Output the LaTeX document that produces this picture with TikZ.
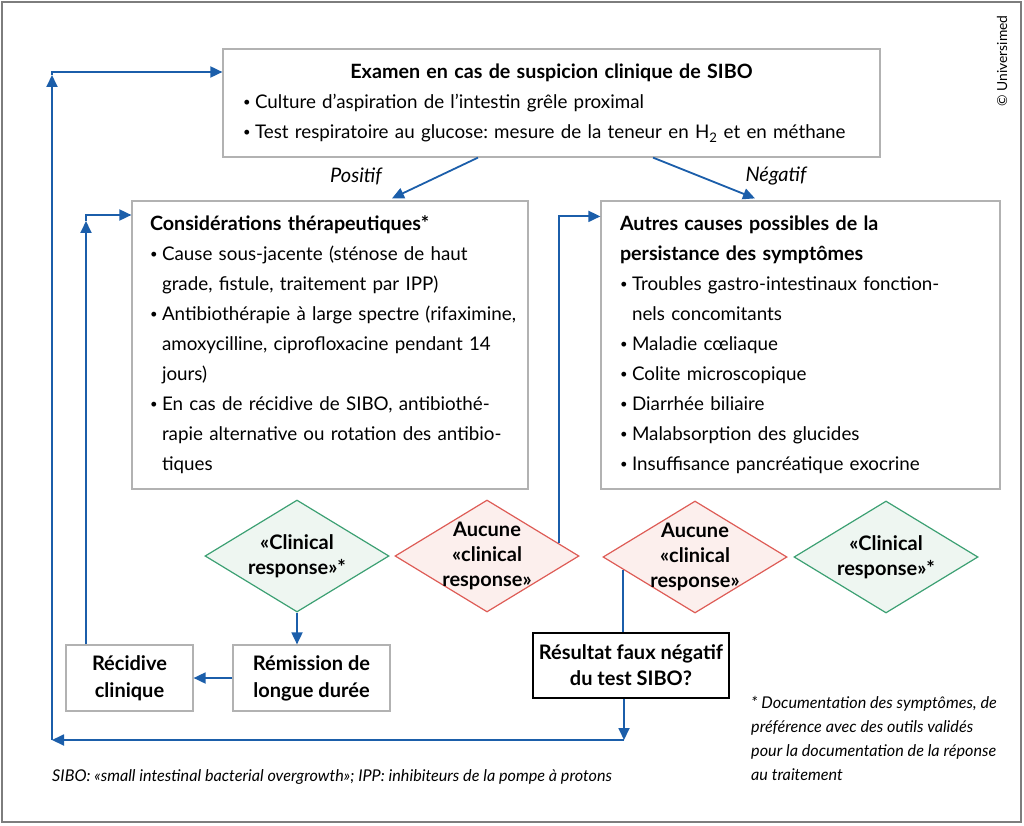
\documentclass[tikz,border=0pt]{standalone}
\usepackage{fontspec}
\setmainfont{Lato}
\usetikzlibrary{positioning, calc, shapes.geometric, arrows.meta}
\definecolor{flowblue}{RGB}{27,94,170}
\definecolor{boxgray}{RGB}{178,178,178}
\definecolor{framegray}{RGB}{125,125,125}
\definecolor{okline}{RGB}{60,160,115}
\definecolor{okfill}{RGB}{238,246,241}
\definecolor{noline}{RGB}{222,92,86}
\definecolor{nofill}{RGB}{252,239,237}
\tikzstyle{Flow} = [
%blue connector with a solid tip:
draw=flowblue, line width=1.8pt,
-{Triangle[length=12pt, width=11pt]}
]
\tikzstyle{Line} = [draw=flowblue, line width=1.8pt]
\newcommand{\bul}{\makebox[12pt][l]{\raisebox{0.1em}{\fontsize{13}{13}\selectfont\textbullet}}}
\newcommand{\contline}{\hspace*{12pt}}
\newcommand{\head}[1]{{\bfseries\fontsize{19.7}{30}\selectfont #1}}
\frenchspacing

\begin{document}
\begin{tikzpicture}[x=1pt, y=-1pt,
			box/.style = {rectangle, draw=boxgray, line width=1.2pt, fill=white, inner sep=0pt, align=left, font=\fontsize{18.8}{30}\selectfont},
			step box/.style = {rectangle, draw=boxgray, line width=1.2pt, fill=white, inner sep=0pt, align=center, font=\bfseries\fontsize{20}{27}\selectfont},
			question/.style = {rectangle, draw=black, line width=2.2pt, fill=white, inner sep=0pt, align=center, font=\bfseries\fontsize{20}{26}\selectfont},
			decision/.style = {diamond, line width=1.2pt, inner sep=-20pt, minimum width=184pt, minimum height=112pt, align=center, font=\bfseries\fontsize{20}{25}\selectfont},
			good/.style = {decision, draw=okline, fill=okfill},
			bad/.style = {decision, draw=noline, fill=nofill},
			branch/.style = {font=\itshape\fontsize{20}{22}\selectfont},
		]
		\useasboundingbox (0,0) rectangle (1024,826);
		\draw[framegray, line width=2pt] (2,2) rectangle (1021,822);

		% boxes
		\node[box, minimum width=657pt, minimum height=108pt, text width=617pt](topbox) at (551.5,103){\makebox[617pt]{\head{Examen en cas de suspicion clinique de SIBO}}\\
			\bul Culture d’aspiration de l’intestin grêle proximal\\
			\bul \mbox{Test respiratoire au glucose: mesure de la teneur en H\textsubscript{2} et en méthane}};
		\node[box, minimum width=396pt, minimum height=288pt, text width=360pt](cons) at (330,345){\head{Considérations thérapeutiques*}\\
			\bul \mbox{Cause sous-jacente (sténose de haut}\\
			\contline \mbox{grade, fistule, traitement par IPP)}\\
			\bul \mbox{Antibiothérapie à large spectre (rifaximine,}\\
			\contline \mbox{amoxycilline, ciprofloxacine pendant 14}\\
			\contline jours)\\
			\bul \mbox{En cas de récidive de SIBO, antibiothé-}\\
			\contline \mbox{rapie alternative ou rotation des antibio-}\\
			\contline tiques};
		\node[box, minimum width=399pt, minimum height=288pt, text width=361pt](autres) at (800.5,345){\head{Autres causes possibles de la}\\
			\head{persistance des symptômes}\\
			\bul \mbox{Troubles gastro-intestinaux fonction-}\\
			\contline nels concomitants\\
			\bul Maladie cœliaque\\
			\bul Colite microscopique\\
			\bul Diarrhée biliaire\\
			\bul Malabsorption des glucides\\
			\bul \mbox{Insuffisance pancréatique exocrine}};

		% decisions
		\node[good](d1) at (297,556){«Clinical\\response»*};
		\node[bad](d2) at (487,556){Aucune\\«clinical\\response»};
		\node[bad](d3) at (695,557){Aucune\\«clinical\\response»};
		\node[good](d4) at (886,557){«Clinical\\response»*};

		\node[step box, minimum width=127pt, minimum height=66pt](recidive) at (129.5,678){Récidive\\clinique};
		\node[step box, minimum width=157pt, minimum height=66pt](remission) at (311.5,678){Rémission de\\longue durée};
		\node[question, minimum width=196pt, minimum height=65pt](resultat) at (631,665.5){Résultat faux négatif\\du test SIBO?};

		% labels
		\node[branch](pos) at (356,176){Positif};
		\node[branch](neg) at (776,176){Négatif};
		\node[rotate=90, font=\fontsize{13.8}{15}\selectfont](copy) at (1002,61){\textcopyright{} Universimed};
		\node[anchor=base west, inner sep=0pt, font=\itshape\fontsize{16.2}{18}\selectfont](abbr) at (52,781){SIBO: «small intestinal bacterial overgrowth»; IPP: inhibiteurs de la pompe à protons};
		\node[anchor=north west, inner sep=0pt, align=left, font=\itshape\fontsize{16.2}{24}\selectfont](starnote) at (751,696){* Documentation des symptômes, de\\
			préférence avec des outils validés\\
			pour la documentation de la réponse\\
			au traitement};

		\coordinate(cornerA) at (86,215);
		\coordinate(loopR) at (624,740);
		\coordinate(loopL) at (52,740);
		\coordinate(loopT) at (52,72);

		\draw[Flow]([xshift=-73.5pt]topbox.south)--([xshift=62pt, yshift=2pt]cons.north);
		\draw[Flow]([xshift=101.5pt]topbox.south)--([xshift=-45.5pt, yshift=2pt]autres.north);
		\draw[Flow](d1.south)--(d1.south |- remission.north);
		\draw[Flow](remission.west)--(recidive.east);
		\draw[Flow](recidive.north -| cornerA)--([yshift=-6pt]cornerA);
		\draw[Flow]([yshift=-6pt]cornerA)--(cornerA)--(cornerA -| cons.west);
		\draw[Flow](d2.10)|-([yshift=-16pt]autres.north west);
		\draw[Line](d3.190)--(d3.190 |- resultat.north);
		\draw[Flow](loopR |- resultat.south)--(loopR);
		\draw[Flow](loopR)--(loopL);
		\draw[Flow](loopL)--([yshift=-3pt]loopT);
		\draw[Flow]([yshift=-3pt]loopT)--(loopT)--(loopT -| topbox.west);

	\end{tikzpicture}
\end{document}
